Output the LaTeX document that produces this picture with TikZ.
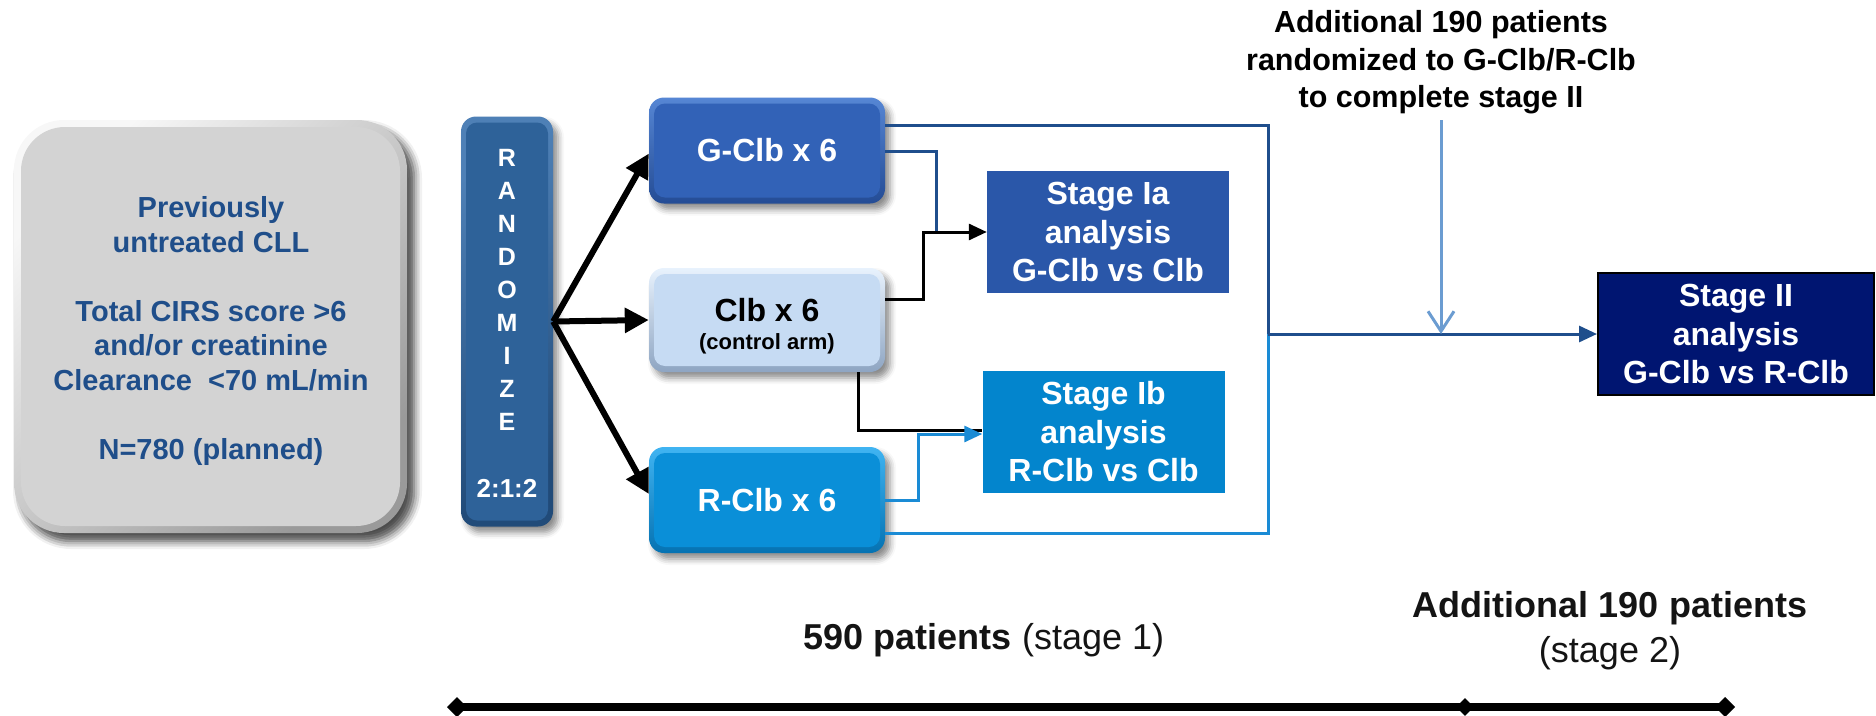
\documentclass[tikz,border=0pt]{standalone}
\usepackage{fontspec}
\setmainfont{Liberation Sans}
\usetikzlibrary{arrows.meta,shadows.blur,shapes.geometric}

\definecolor{popfill}{HTML}{D3D3D3}
\definecolor{poplight}{HTML}{F7F7F7}
\definecolor{popdark}{HTML}{9A9A9A}
\definecolor{poptext}{HTML}{1F4E8A}
\definecolor{randfill}{HTML}{2E6299}
\definecolor{randlight}{HTML}{4E80B6}
\definecolor{randdark}{HTML}{214B79}
\definecolor{gfill}{HTML}{3262B7}
\definecolor{glight}{HTML}{5686D4}
\definecolor{gdark}{HTML}{244C95}
\definecolor{cfill}{HTML}{C6DBF3}
\definecolor{clight}{HTML}{E8F2FD}
\definecolor{cdark}{HTML}{8EA5C2}
\definecolor{rfill}{HTML}{0A8FD8}
\definecolor{rlight}{HTML}{40B4F2}
\definecolor{rdark}{HTML}{0572B2}
\definecolor{iafill}{HTML}{2A57A9}
\definecolor{ibfill}{HTML}{0385CD}
\definecolor{iifill}{HTML}{001571}
\definecolor{linedark}{HTML}{1F4E8C}
\definecolor{linelight}{HTML}{1A8BD5}
\definecolor{linepale}{HTML}{6B9CD1}
\definecolor{inktext}{HTML}{141414}

\tikzset{
  boxshadow/.style={blur shadow={shadow xshift=5pt,shadow yshift=-6pt,
      shadow blur radius=6pt,shadow opacity=45}},
  rimbox/.style={rectangle,inner sep=0pt,boxshadow},
  flatbox/.style={rectangle,inner sep=0pt},
  armtext/.style={font=\fontsize{32}{38}\selectfont\bfseries},
  stagebox/.style={rectangle,inner sep=0pt,minimum width=242pt,
      minimum height=122pt,text=white,align=center,
      font=\fontsize{32}{38.5}\selectfont\bfseries},
  link/.style={line width=3pt},
  linktip/.style={-{Triangle[length=18pt,width=16pt]}},
  splitarrow/.style={line width=6pt,-{Triangle[length=24pt,width=24pt]}},
}

\begin{document}
\begin{tikzpicture}[x=1pt,y=-1pt]
\useasboundingbox (0,0) rectangle (1876,715);

% population box with bevelled rim
\node[rimbox,rounded corners=50pt,minimum width=393pt,minimum height=413pt,
      top color=poplight,bottom color=popdark,shading angle=45,
      blur shadow={shadow xshift=7pt,shadow yshift=-8pt,shadow blur radius=8pt,shadow opacity=45}]
      (pop) at (210.5,326.5) {};
\node[flatbox,rounded corners=44pt,minimum width=379pt,minimum height=399pt,fill=popfill]
      (popin) at (pop.center) {};
\node[font=\fontsize{29}{34.5}\selectfont\bfseries,text=poptext,align=center,inner sep=0pt]
      (poptxt) at (211,331)
      {Previously\\untreated CLL\\[34.5pt]Total CIRS score >6\\and/or creatinine\\Clearance\ \ {<}70 mL/min\\[34.5pt]N=780 (planned)};

% randomisation bar
\node[rimbox,rounded corners=15pt,minimum width=92pt,minimum height=410pt,
      top color=randlight,bottom color=randdark,shading angle=30]
      (rand) at (507,321.5) {};
\node[flatbox,rounded corners=11pt,minimum width=82pt,minimum height=398pt,fill=randfill]
      (randin) at (rand.center) {};
\node[font=\fontsize{25}{33}\selectfont\bfseries,text=white,align=center,inner sep=0pt]
      (randtxt) at (507,290) {R\\A\\N\\D\\O\\M\\I\\Z\\E};
\node[font=\fontsize{26}{30}\selectfont\bfseries,text=white,inner sep=0pt]
      (ratio) at (507,488) {2:1:2};

% treatment arms
\node[rimbox,rounded corners=15pt,minimum width=236pt,minimum height=106pt,
      top color=glight,bottom color=gdark] (garm) at (767,150.5) {};
\node[flatbox,rounded corners=11pt,minimum width=226pt,minimum height=94pt,
      fill=gfill,text=white,armtext] (garmin) at (garm.center) {G-Clb x 6};

\node[rimbox,rounded corners=15pt,minimum width=236pt,minimum height=104pt,
      top color=clight,bottom color=cdark] (carm) at (767,320) {};
\node[flatbox,rounded corners=11pt,minimum width=226pt,minimum height=92pt,
      fill=cfill] (carmin) at (carm.center) {};
\node[align=center,inner sep=0pt,text=black,font=\fontsize{22}{28}\selectfont\bfseries]
      (ctxt) at (767,326) {{\fontsize{32}{28}\selectfont Clb x 6}\\(control arm)};

\node[rimbox,rounded corners=15pt,minimum width=236pt,minimum height=106pt,
      top color=rlight,bottom color=rdark] (rarm) at (767,500) {};
\node[flatbox,rounded corners=11pt,minimum width=226pt,minimum height=94pt,
      fill=rfill,text=white,armtext] (rarmin) at (rarm.center) {R-Clb x 6};

% analysis boxes
\node[stagebox,fill=iafill] (sia) at (1108,232) {Stage Ia\\analysis\\G-Clb vs Clb};
\node[stagebox,fill=ibfill] (sib) at (1103.5,432) {Stage Ib\\analysis\\R-Clb vs Clb};
\node[stagebox,fill=iifill,draw=black,line width=2pt,minimum width=276pt]
      (s2) at (1736,334) {Stage II\\analysis\\G-Clb vs R-Clb};

% annotations
\node[font=\fontsize{30.5}{37.5}\selectfont\bfseries,align=center,inner sep=0pt,text=black]
      (note) at (1441,62.5)
      {Additional 190 patients\\randomized to G-Clb/R-Clb\\to complete stage II};
\node[font=\fontsize{36}{45}\selectfont,text=inktext,inner sep=0pt]
      (s1lab) at (984,640) {\textbf{590 patients} (stage 1)};
\node[font=\fontsize{36}{45}\selectfont,text=inktext,align=center,inner sep=0pt]
      (s2lab) at (1610,630.5) {\textbf{Additional 190 patients}\\(stage 2)};

% bend points of the connectors
\coordinate (jr) at (1268,334);
\coordinate (gdrop) at (936,232);
\coordinate (cbend) at (923,232);
\coordinate (rbend) at (918,434);

% randomisation arrows
\draw[splitarrow] (rand.east) -- ([yshift=-3pt]garm.west);
\draw[splitarrow] (rand.east) -- (carm.west);
\draw[splitarrow] (rand.east) -- ([yshift=6pt]rarm.west);

% arms to analyses
\draw[link,linedark] ([yshift=25pt]garm.east) -| (jr);
\draw[link,linedark] ([yshift=-1pt]garm.east) -| (gdrop);
\draw[link,black,linktip] ([yshift=21pt]carm.east) -| (cbend) -- (sia.west);
\draw[link,black] ([xshift=91pt]carm.south) |- ([yshift=2pt]sib.west);
\draw[link,linelight,linktip] (rarm.east) -| (rbend) -- ([yshift=-2pt]sib.west);
\draw[link,linelight] ([yshift=-33pt]rarm.east) -| (jr);
\draw[link,linedark,linktip] (jr) -- (s2.west);

% additional patients entering stage II
\draw[line width=3pt,linepale,shorten <=6pt,
      -{Straight Barb[length=20pt,width=26pt]}] (note.south) -- (note.south |- jr);

% enrolment timeline
\coordinate (tl) at (447,707);
\coordinate (tm) at (1465,707);
\coordinate (tr) at (1735,707);
\draw[line width=8pt,{Diamond[length=20pt,width=20pt]}-{Diamond[length=20pt,width=20pt]}]
      (tl) -- (tr);
\node[diamond,fill=black,inner sep=0pt,minimum size=18pt] (tmark) at (tm) {};
\end{tikzpicture}
\end{document}
